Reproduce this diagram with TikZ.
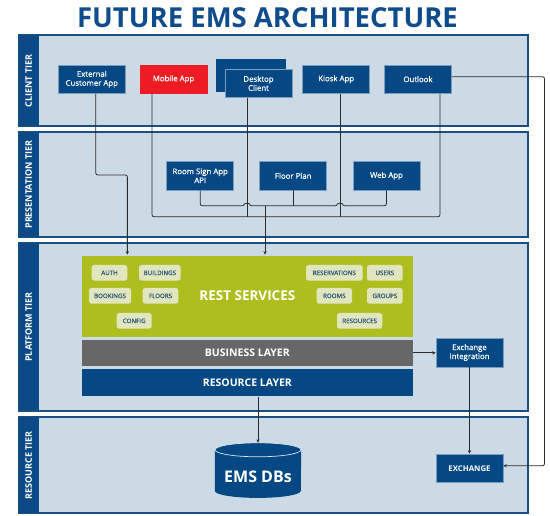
\documentclass[tikz,border=0pt]{standalone}
\usepackage{fontspec}
\setmainfont{Open Sans}
\newfontfamily\medfont[FakeBold=0.6]{Open Sans}
\usetikzlibrary{calc,arrows.meta}
\definecolor{tierbg}{HTML}{CCDAE6}
\definecolor{tierline}{HTML}{1B4F82}
\definecolor{sidec}{HTML}{0B4A86}
\definecolor{nodeblue}{HTML}{054884}
\definecolor{nodeline}{HTML}{7C9DBE}
\definecolor{mobred}{HTML}{ED1C24}
\definecolor{restgreen}{HTML}{AEBE1E}
\definecolor{pillc}{HTML}{E1E6BF}
\definecolor{pilltext}{HTML}{2A557A}
\definecolor{busgray}{HTML}{676767}
\definecolor{titleblue}{HTML}{0F4C8B}
\definecolor{linec}{HTML}{2B2B2B}
\begin{document}
\begin{tikzpicture}[x=1pt,y=-1pt,
  tier/.style={draw=tierline,fill=tierbg,line width=1.1pt,inner sep=0,minimum width=509},
  sidetext/.style={rotate=90,text=white,font=\bfseries\fontsize{9}{11}\selectfont},
  nbox/.style={fill=nodeblue,draw=nodeline,line width=.5pt,text=white,align=center,
    font=\medfont\fontsize{7.8}{9}\selectfont,inner sep=1pt,minimum width=67,minimum height=28.5},
  pill/.style={fill=pillc,rounded corners=2.5pt,text=pilltext,inner sep=0,minimum height=15.7,
    font=\medfont\fontsize{6.2}{7}\selectfont},
  layer/.style={draw=tierbg,line width=.8pt,minimum width=331.3,inner sep=0,text=white},
  conn/.style={draw=linec,line width=.8pt,rounded corners=2pt},
  arr/.style={-{Stealth[length=3.5pt,width=3.2pt]}}
]
\useasboundingbox (0,0) rectangle (550,516);
\fill[white] (0,0) rectangle (550,516);

% title
\node[font=\bfseries\fontsize{27.5}{32}\selectfont,text=titleblue] (title) at (267.5,18) {FUTURE EMS ARCHITECTURE};

% tiers
\node[tier,minimum height=90.5] (tclient) at (273.5,80.75) {};
\node[tier,minimum height=105] (tpres) at (273.5,184.5) {};
\node[tier,minimum height=167.2] (tplat) at (273.5,326.9) {};
\node[tier,minimum height=95.7] (tres) at (273.5,465.15) {};
\foreach \t/\lab in {tclient/CLIENT TIER,tpres/PRESENTATION TIER,tplat/PLATFORM TIER,tres/RESOURCE TIER}{
  \fill[sidec] (\t.north west) rectangle ($(\t.south west)+(20.5,0)$);
  \draw[tierline,line width=1.1pt] (\t.north west) rectangle (\t.south east);
  \node[sidetext] at ($(\t.west)+(10.25,0)$) {\lab};
}

% client tier
\node[nbox] (ext) at (91.8,79.2) {External\\Customer App};
\node[nbox,fill=mobred,draw=mobred] (mob) at (173.5,79.2) {Mobile App};
\node[fill=nodeblue,inner sep=0,minimum width=70,minimum height=32.7] (deskback) at (251,75.35) {};
\node[nbox,minimum height=28.7] (desk) at (258.5,83.35) {Desktop\\Client};
\node[nbox] (kiosk) at (336.2,79.2) {Kiosk App};
\node[nbox] (outlook) at (418,79.2) {Outlook};

% presentation tier
\node[nbox] (room) at (200.2,175.8) {Room Sign App\\API};
\node[nbox] (floor) at (293.2,175.8) {Floor Plan};
\node[nbox] (web) at (386.5,175.8) {Web App};

% platform tier
\node[layer,fill=restgreen,minimum height=82,font=\bfseries\fontsize{13.5}{16}\selectfont] (rest) at (247.35,296) {REST SERVICES};
\node[layer,fill=busgray,minimum height=27.7,font=\bfseries\fontsize{10.5}{12}\selectfont] (bus) at (247.35,352.85) {BUSINESS LAYER};
\node[layer,fill=nodeblue,minimum height=28.7,font=\bfseries\fontsize{10.5}{12}\selectfont] (reslayer) at (247.35,382.35) {RESOURCE LAYER};

\node[pill,minimum width=35.6] (auth) at (109.5,272.85) {AUTH};
\node[pill,minimum width=41.7] (bld) at (159.85,272.85) {BUILDINGS};
\node[pill,minimum width=42] (book) at (110,295.85) {BOOKINGS};
\node[pill,minimum width=35.6] (flr) at (160.5,295.85) {FLOORS};
\node[pill,minimum width=35] (cfg) at (134.2,320.85) {CONFIG};
\node[pill,minimum width=56.7] (resv) at (334.35,272.85) {RESERVATIONS};
\node[pill,minimum width=35.7] (usr) at (384.85,272.85) {USERS};
\node[pill,minimum width=35.3] (rms) at (334.35,295.85) {ROOMS};
\node[pill,minimum width=35.7] (grp) at (384.85,295.85) {GROUPS};
\node[pill,minimum width=45.3] (rsrc) at (359.65,320.85) {RESOURCES};

\node[nbox,minimum height=29] (exint) at (469.5,352.5) {Exchange\\Integration};

% resource tier
\node[nbox,minimum height=28.7,font=\bfseries\fontsize{7.8}{9}\selectfont] (exch) at (469.5,468.35) {EXCHANGE};
\node[inner sep=0,minimum width=86,minimum height=54.7] (db) at (258,470.35) {};
\fill[nodeblue] ($(db.north west)+(0,7)$) -- ($(db.south west)+(0,-7)$)
  arc[start angle=180,end angle=360,x radius=43pt,y radius=7pt] -- ($(db.north east)+(0,7)$) -- cycle;
\filldraw[fill=nodeblue,draw=tierbg!70!white,line width=.7pt] ($(db.north)+(0,7)$) ellipse[x radius=43pt,y radius=7pt];
\node[text=white,font=\bfseries\fontsize{16}{19}\selectfont] (dbtext) at ($(db.center)+(0,6.6)$) {EMS DBs};

% connector ports
\coordinate (extP) at ($(ext.south)+(4,0)$);
\coordinate (mobP) at ($(mob.south)+(-21.5,0)$);
\coordinate (deskP) at ($(desk.south)+(-11.5,0)$);
\coordinate (kioskP) at ($(kiosk.south)+(3.8,0)$);
\coordinate (outP) at ($(outlook.south)+(22,0)$);
\coordinate (jogY) at (0,175);
\coordinate (ubY) at (0,205.7);
\coordinate (lbY) at (0,216.7);
\coordinate (restP1) at ($(rest.north)+(-120,0)$);
\coordinate (restP2) at ($(rest.north)+(17.65,0)$);
\coordinate (hopA) at (deskP |- ubY);
\coordinate (hopB) at (kioskP |- ubY);
\coordinate (outR) at ($(outlook.east)+(0,-2.5)$);
\coordinate (farR) at (544.5,0);
\coordinate (exIn) at ($(exch.east)+(0,-2.6)$);

% connectors
\draw[conn,arr] (extP) |- (jogY -| restP1) -- (restP1);
\draw[conn] (mobP) |- (lbY -| outP) -- (outP);
\draw[conn] (deskP) -- (deskP |- lbY);
\draw[conn] (kioskP) -- (kioskP |- lbY);
\draw[conn] (room.south) |- ($(hopA)+(-2.5,0)$)
  arc[start angle=180,end angle=0,radius=2.5pt] -- ($(hopB)+(-2.5,0)$)
  arc[start angle=180,end angle=0,radius=2.5pt] -| (web.south);
\draw[conn] (floor.south) -- (floor.south |- ubY);
\draw[conn,arr] (restP2 |- ubY) -- (restP2);
\draw[conn,arr] (outR) -| (farR |- exIn) -- (exIn);
\draw[conn,arr] (bus.east) -- (bus.east -| exint.west);
\draw[conn,arr] (exint.south) -- (exch.north);
\draw[conn,arr] (db.north |- reslayer.south) -- (db.north);
\end{tikzpicture}
\end{document}
